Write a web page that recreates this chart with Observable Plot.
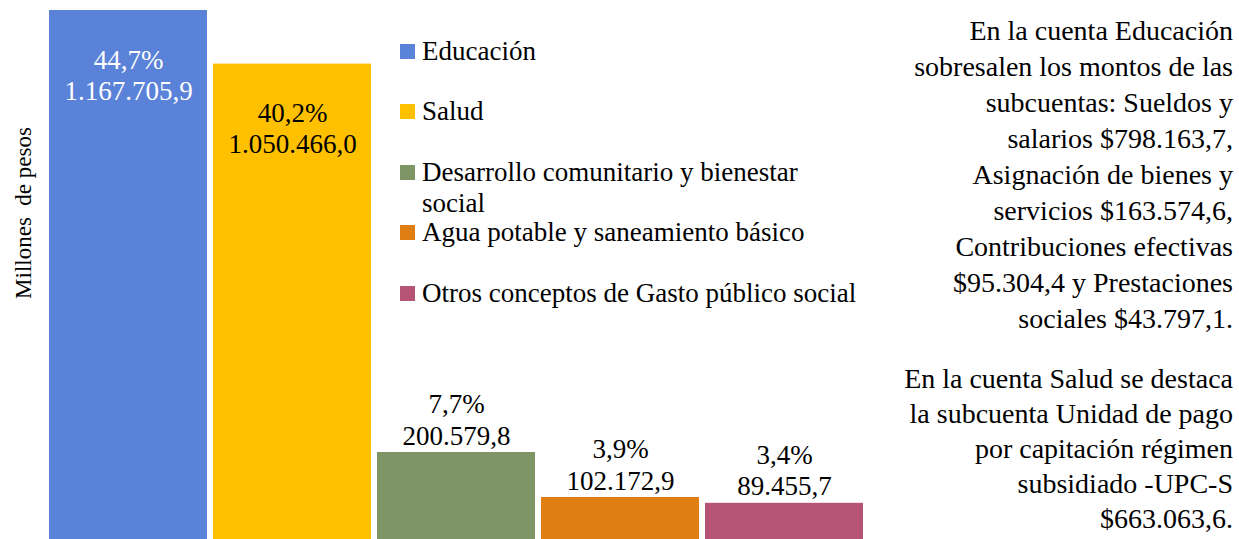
<!DOCTYPE html>
<html>
<head>
<meta charset="utf-8">
<script src="https://cdn.jsdelivr.net/npm/d3@7"></script>
<script src="https://cdn.jsdelivr.net/npm/@observablehq/plot@0.6"></script>
<style>
body { margin: 0; padding: 0; background: #fff; }
#wrap { position: relative; width: 1239px; height: 539px; font-family: 'Liberation Serif', 'Times New Roman', serif; color: #000; }
#chart { position: absolute; left: 0; top: 0; }
.sw { position: absolute; left: 400px; width: 15px; height: 15px; }
.lt { position: absolute; left: 422px; width: 439px; font-size: 27px; }
.pl { position: absolute; right: 6px; white-space: nowrap; font-size: 28px; }
</style>
</head>
<body>
<div id="wrap"><div id="chart"></div></div>
<script>
// ---- data ----
const categories = [
  "Educación",
  "Salud",
  "Desarrollo comunitario y bienestar social",
  "Agua potable y saneamiento básico",
  "Otros conceptos de Gasto público social"
];
const values = [1167705.9, 1050466.0, 200579.8, 102172.9, 89455.7];
const colors = ["#5A82D8", "#FFC000", "#7E9665", "#DF7E12", "#B55474"];
const yLabel = "Millones\u00a0 de pesos";
const note1 = [
  "En la cuenta Educación",
  "sobresalen los montos de las",
  "subcuentas: Sueldos y",
  "salarios $798.163,7,",
  "Asignación de bienes y",
  "servicios $163.574,6,",
  "Contribuciones efectivas",
  "$95.304,4 y Prestaciones",
  "sociales $43.797,1."
];
const note2 = [
  "En la cuenta Salud se destaca",
  "la subcuenta Unidad de pago",
  "por capitación régimen",
  "subsidiado -UPC-S",
  "$663.063,6."
];

// ---- formatting ----
const es = d3.formatLocale({decimal: ",", thousands: ".", grouping: [3], currency: ["$", ""]});
const fmtVal = es.format(",.1f");
const fmtPct = es.format(".1%");
const total = d3.sum(values);
const data = categories.map((c, i) => ({
  cat: c, value: values[i], idx: i,
  label: fmtPct(values[i] / total) + "\n" + fmtVal(values[i])
}));

const font = "'Liberation Serif', 'Times New Roman', serif";
const chart = Plot.plot({
  width: 870, height: 539,
  marginTop: 10, marginBottom: 0, marginLeft: 45, marginRight: 6,
  x: {domain: categories, range: [48, 864], paddingInner: 0.0395, paddingOuter: 0, axis: null},
  y: {domain: [0, d3.max(values)], range: [543.7, 10], axis: null},
  color: {domain: categories, range: colors},
  style: {fontFamily: font, background: "transparent", overflow: "hidden"},
  marks: [
    Plot.barY(data, {x: "cat", y: "value", fill: "cat"}),
    Plot.text(data, {filter: d => d.idx === 0, x: "cat", y: "value", text: "label",
      lineAnchor: "top", dy: 36, fontSize: 27, lineHeight: 1.15, fill: "white", fontFamily: font}),
    Plot.text(data, {filter: d => d.idx === 1, x: "cat", y: "value", text: "label",
      lineAnchor: "top", dy: 36, fontSize: 27, lineHeight: 1.15, fill: "black", fontFamily: font}),
    Plot.text(data, {filter: d => d.idx > 1, x: "cat", y: "value", text: "label",
      lineAnchor: "bottom", dy: -8, fontSize: 27, lineHeight: 1.15, fill: "black", fontFamily: font}),
    Plot.text([yLabel], {frameAnchor: "left", text: d => d, rotate: -90, textAnchor: "middle",
      dx: -22, dy: -62, fontSize: 23, fill: "black", fontFamily: font})
  ]
});
document.getElementById("chart").appendChild(chart);

// ---- legend ----
const wrap = document.getElementById("wrap");
const legBaselines = [61, 121, 182, 242, 303];
categories.forEach((c, i) => {
  const sw = document.createElement("div");
  sw.className = "sw";
  sw.style.background = colors[i];
  sw.style.top = (legBaselines[i] - 17) + "px";
  wrap.appendChild(sw);
  const t = document.createElement("div");
  t.className = "lt";
  t.style.top = (legBaselines[i] - 24.6) + "px";
  t.textContent = c;
  wrap.appendChild(t);
});

// ---- notes ----
function addPara(lines, firstBaseline, step) {
  lines.forEach((l, i) => {
    const d = document.createElement("div");
    d.className = "pl";
    d.style.top = (firstBaseline + i * step - 25.5) + "px";
    d.textContent = l;
    wrap.appendChild(d);
  });
}
addPara(note1, 40, 36);
addPara(note2, 388, 35);
</script>
</body>
</html>
